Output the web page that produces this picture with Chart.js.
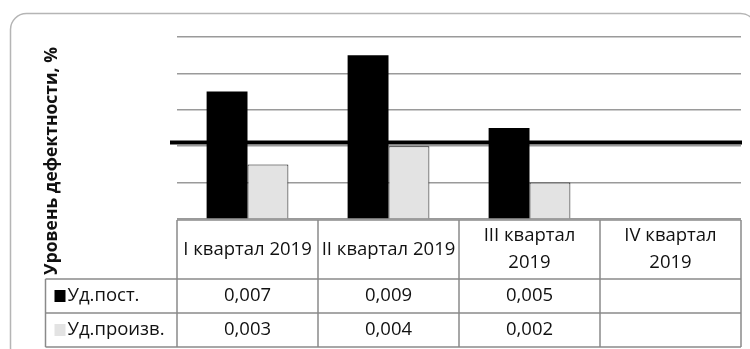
<!DOCTYPE html>
<html>
<head>
<meta charset="utf-8">
<script src="https://cdn.jsdelivr.net/npm/chart.js@4.4.1/dist/chart.umd.min.js"></script>
<style>
  html, body { margin: 0; padding: 0; background: #fff; }
  #wrap { width: 750px; height: 349px; }
</style>
</head>
<body>
<div id="wrap"><canvas id="chart"></canvas></div>
<script>
// quarters (multi-line labels like in the table header)
const quarters = [['I квартал 2019'], ['II квартал 2019'], ['III квартал', '2019'], ['IV квартал', '2019']];
const seriesNames = ['Уд.пост.', 'Уд.произв.'];
const udPost = [0.007, 0.009, 0.005, null];
const udProizv = [0.003, 0.004, 0.002, null];
const normLevel = 0.0042;   // thick black line
const yTitle = 'Уровень дефектности, %';

const colors = ['#000000', '#e3e3e3'];
const font = '"Open Sans", "Noto Sans", sans-serif';

function fmt(v) {
    if (v === null || v === undefined) return '';
    return v.toFixed(3).replace('.', ',');
}

// rounded frame around the whole thing + y title (centered on plot+table)
const framePlugin = {
    id: 'frame',
    beforeDraw(chart) {
        const ctx = chart.ctx;
        ctx.save();
        ctx.fillStyle = '#fff';
        ctx.fillRect(0, 0, chart.width, chart.height);
        ctx.strokeStyle = '#b5b5b5';
        ctx.lineWidth = 1.5;
        ctx.beginPath();
        ctx.roundRect(10.5, 13.5, 746, 350, 16);
        ctx.stroke();

        ctx.translate(52, 161);
        ctx.rotate(-Math.PI / 2);
        ctx.fillStyle = '#111';
        ctx.font = 'bold 17.5px ' + font;
        ctx.textAlign = 'center';
        ctx.textBaseline = 'middle';
        ctx.fillText(yTitle, 0, 0);
        ctx.restore();
    }
};

// thick horizontal line at normLevel
const normPlugin = {
    id: 'norm',
    afterDatasetsDraw(chart) {
        const {ctx, chartArea, scales: {y}} = chart;
        const py = y.getPixelForValue(normLevel);
        ctx.save();
        ctx.strokeStyle = '#000';
        ctx.lineWidth = 4;
        ctx.beginPath();
        ctx.moveTo(chartArea.left - 7, py);
        ctx.lineTo(chartArea.right + 1, py);
        ctx.stroke();
        ctx.restore();
    }
};

// data table under the plot
const tablePlugin = {
    id: 'dataTable',
    afterDraw(chart) {
        const {ctx, chartArea, scales: {x}} = chart;
        const colW = x.width / quarters.length;
        const legendLeft = 45.5;
        const top = chartArea.bottom + 1;
        const headH = 59;
        const rowH = 34;
        const bottom = top + headH + rowH * 2;
        const series = [udPost, udProizv];

        ctx.save();
        ctx.strokeStyle = '#8a8a8a';
        ctx.lineWidth = 1.5;
        ctx.beginPath();
        ctx.moveTo(chartArea.left, top);
        ctx.lineTo(chartArea.right, top);
        for (let r = 0; r <= 2; r++) {
            const yy = top + headH + rowH * r;
            ctx.moveTo(legendLeft, yy);
            ctx.lineTo(chartArea.right, yy);
        }
        ctx.moveTo(legendLeft, top + headH);
        ctx.lineTo(legendLeft, bottom);
        for (let i = 0; i <= quarters.length; i++) {
            const xx = chartArea.left + colW * i;
            ctx.moveTo(xx, top);
            ctx.lineTo(xx, bottom);
        }
        ctx.stroke();

        ctx.fillStyle = '#111';
        ctx.font = '18.5px ' + font;
        ctx.textAlign = 'center';
        ctx.textBaseline = 'middle';
        quarters.forEach((lines, i) => {
            const cx = x.getPixelForValue(i);
            const lh = 27;
            const y0 = top + headH / 2 - (lines.length - 1) * lh / 2;
            lines.forEach((t, k) => ctx.fillText(t, cx, y0 + k * lh));
        });

        series.forEach((vals, r) => {
            const cy = top + headH + rowH * r + rowH / 2;
            ctx.fillStyle = colors[r];
            ctx.fillRect(legendLeft + 9, cy - 6, 11, 12);
            ctx.fillStyle = '#111';
            ctx.textAlign = 'left';
            ctx.fillText(seriesNames[r], legendLeft + 22, cy);
            ctx.textAlign = 'center';
            vals.forEach((v, i) => ctx.fillText(fmt(v), x.getPixelForValue(i), cy));
        });
        ctx.restore();
    }
};

new Chart(document.getElementById('chart'), {
    type: 'bar',
    data: {
        labels: quarters,
        datasets: [
            { label: seriesNames[0], data: udPost, backgroundColor: colors[0], borderWidth: 0 },
            { label: seriesNames[1], data: udProizv, backgroundColor: colors[1], borderColor: '#111', borderWidth: 1 }
        ]
    },
    options: {
        responsive: true,
        maintainAspectRatio: false,
        animation: false,
        layout: { padding: { left: 42, right: 9, top: 37, bottom: 130 } },
        datasets: { bar: { categoryPercentage: 0.58, barPercentage: 1 } },
        plugins: { legend: { display: false }, tooltip: { enabled: false } },
        scales: {
            x: { display: false },
            y: {
                min: 0,
                max: 0.01,
                ticks: { display: false, stepSize: 0.002 },
                grid: { color: '#9a9a9a', lineWidth: 1.5, drawTicks: false },
                border: { display: false },
                title: { display: false },
                afterFit(scale) { scale.width = 135; }
            }
        }
    },
    plugins: [framePlugin, normPlugin, tablePlugin]
});
</script>
</body>
</html>
